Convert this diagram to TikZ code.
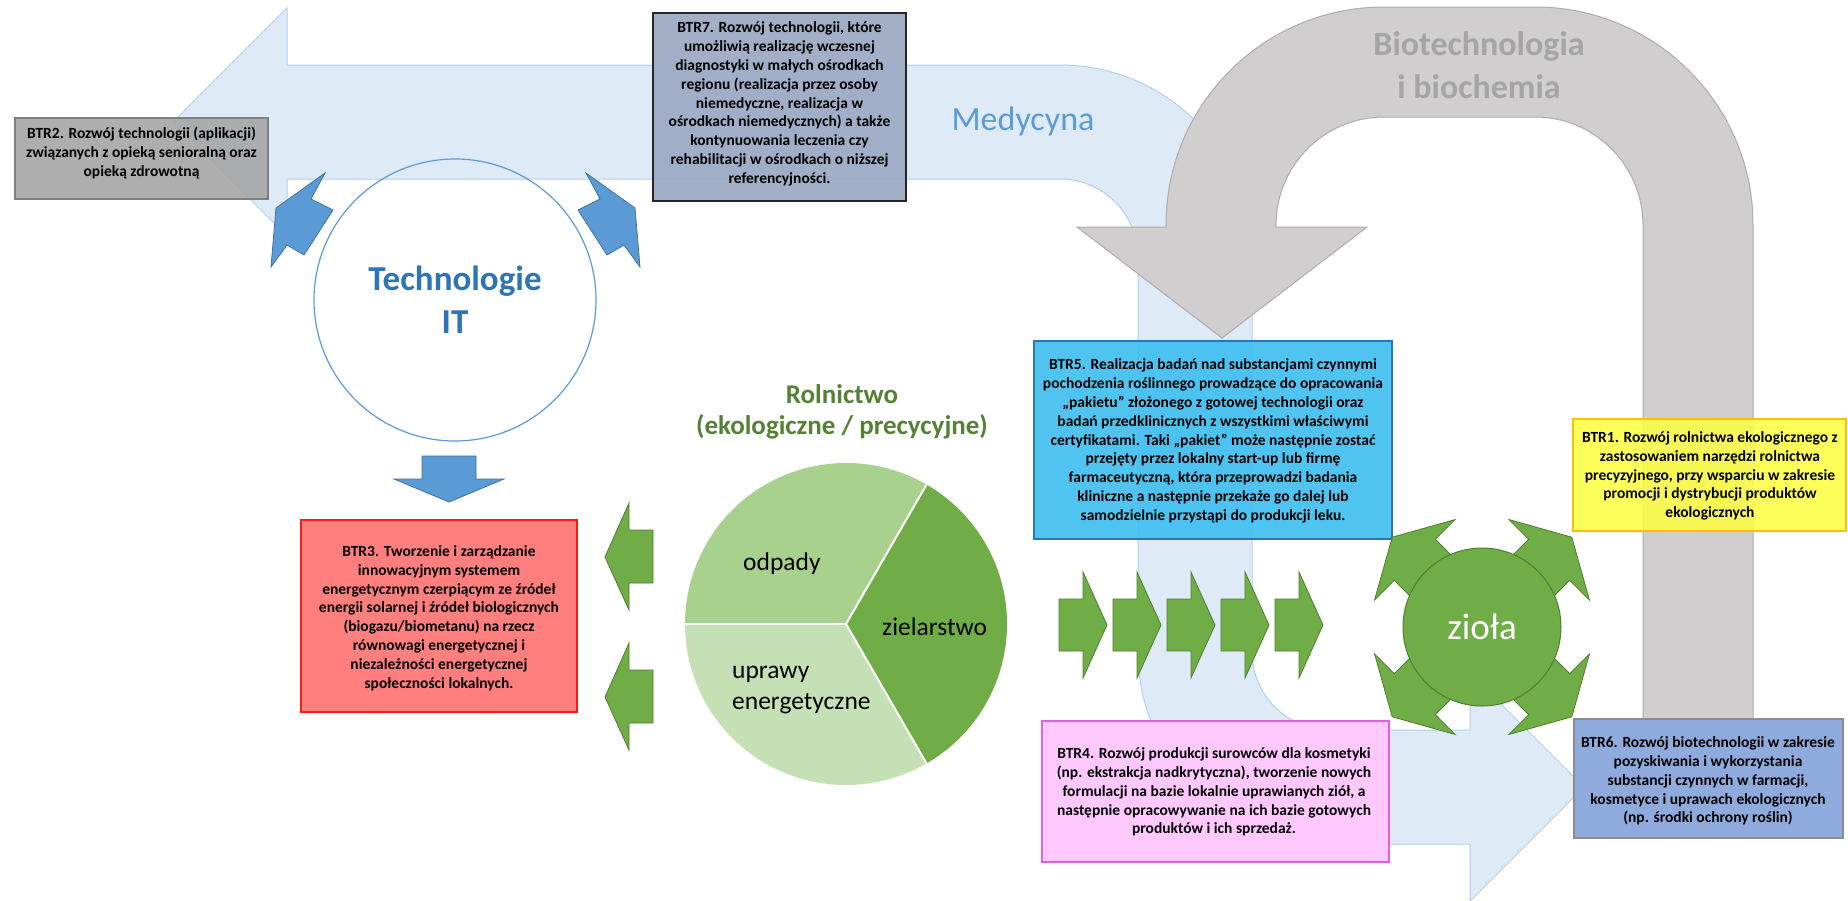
\documentclass[tikz,border=0pt]{standalone}
\usepackage{fontspec}
\setmainfont{Carlito}
\definecolor{bandfill}{HTML}{DEEBF7}
\definecolor{banddraw}{HTML}{B4CFEC}
\definecolor{greyfill}{HTML}{D0CECE}
\definecolor{greydraw}{HTML}{AFABAB}
\definecolor{greytext}{HTML}{A5A5A5}
\definecolor{medtext}{HTML}{5B9BD5}
\definecolor{itblue}{HTML}{5B9BD5}
\definecolor{itbluedark}{HTML}{41719C}
\definecolor{ittext}{HTML}{2E75B6}
\definecolor{grn}{HTML}{70AD47}
\definecolor{grndark}{HTML}{507E32}
\definecolor{grnmid}{HTML}{A9D18E}
\definecolor{grnlight}{HTML}{C5E0B4}
\definecolor{roltext}{HTML}{548235}
\definecolor{btrtwofill}{HTML}{A6A6A6}
\definecolor{btrtwodraw}{HTML}{7F7F7F}
\definecolor{btrsevenfill}{HTML}{9EABC5}
\definecolor{btrsevendraw}{HTML}{262626}
\definecolor{btrfivefill}{HTML}{3DBEF0}
\definecolor{btrfivedraw}{HTML}{2E75B6}
\definecolor{btronefill}{HTML}{FFFF40}
\definecolor{btronedraw}{HTML}{FFC000}
\definecolor{btrfourfill}{HTML}{FFC9FF}
\definecolor{btrfourdraw}{HTML}{E060E0}
\definecolor{btrsixfill}{HTML}{8FAADC}
\definecolor{btrsixdraw}{HTML}{8C8C8C}
\definecolor{btrthreefill}{HTML}{FF7F7F}
\definecolor{btrthreedraw}{HTML}{FF1A1A}
\tikzset{
  boxshape/.style={rectangle, inner sep=0pt, outer sep=0pt},
  boxtext/.style={inner sep=0pt, align=center, text=black,
     font=\fontsize{15.5}{18.8}\selectfont\bfseries},
  grnarrow/.style={fill=grn, draw=grndark, line width=0.8pt},
  bluearrow/.style={fill=itblue, draw=itbluedark, line width=0.8pt},
  pielabel/.style={inner sep=0pt, text=black, font=\fontsize{25.5}{30}\selectfont},
}
\begin{document}
\begin{tikzpicture}[x=1pt,y=-1pt]
\useasboundingbox (0,0) rectangle (1848,900);
\fill[white] (0,0) rectangle (1848,900);

% Medycyna band
\path[fill=bandfill, draw=banddraw, line width=1pt]
 (173,122) -- (287,8) -- (287,65) -- (1060,65)
 .. controls (1166,65) and (1252,151) .. (1252,257)
 -- (1252,652)
 .. controls (1252,695) and (1287,730) .. (1330,730)
 -- (1470,730) -- (1470,673) -- (1584,787) -- (1470,901) -- (1470,844) -- (1330,844)
 .. controls (1224,844) and (1138,758) .. (1138,652)
 -- (1138,257)
 .. controls (1138,214) and (1103,179) .. (1060,179)
 -- (287,179) -- (287,236) -- cycle;

% Biotechnologia U arrow
\path[fill=greyfill, draw=greydraw, line width=1pt]
 (1222,338) -- (1367,227) -- (1276,227) -- (1276,225)
 .. controls (1276,165.4) and (1324.4,117) .. (1384,117)
 -- (1535,117)
 .. controls (1594.6,117) and (1643,165.4) .. (1643,225)
 -- (1643,719) -- (1753,719) -- (1753,225)
 .. controls (1753,104.6) and (1655.4,7) .. (1535,7)
 -- (1384,7)
 .. controls (1263.6,7) and (1166,104.6) .. (1166,225)
 -- (1166,227) -- (1077,227) -- cycle;

\node[anchor=base, inner sep=0pt, text=medtext, font=\fontsize{34}{41}\selectfont] (med) at (1023,130) {Medycyna};
\node[anchor=base, inner sep=0pt, text=greytext, font=\fontsize{34}{41}\selectfont\bfseries] (bioa) at (1479,55) {Biotechnologia};
\node[anchor=base, inner sep=0pt, text=greytext, font=\fontsize{34}{41}\selectfont\bfseries] (biob) at (1479,98) {i biochemia};

% Technologie IT
\node[circle, minimum size=282pt, inner sep=0pt, draw=itblue, line width=1.2pt] (it) at (455,300) {};
\node[anchor=base, inner sep=0pt, text=ittext, font=\fontsize{35}{42}\selectfont\bfseries] (ita) at (455,290) {Technologie};
\node[anchor=base, inner sep=0pt, text=ittext, font=\fontsize{35}{42}\selectfont\bfseries] (itb) at (455,333) {IT};
\path[bluearrow] (325,173) -- (311,199) -- (333,210) -- (304,255) -- (287,245) -- (271,267) -- (276,208) -- cycle;
\path[bluearrow] (586,173) -- (600,199) -- (578,210) -- (607,255) -- (624,245) -- (640,267) -- (635,208) -- cycle;
\path[bluearrow] (422,456) -- (476,456) -- (476,479) -- (504,479) -- (449,502) -- (394,479) -- (422,479) -- cycle;

% boxes
\node[boxshape, minimum width=253pt, minimum height=81pt, fill=btrtwofill, fill opacity=0.9, draw=btrtwodraw, line width=1.5pt] (btr2) at (141.5,158.5) {};
\node[boxtext] (btr2t) at (141.5,153) {BTR2. Rozwój technologii (aplikacji)\\związanych z opieką senioralną oraz\\opieką zdrowotną};

\node[boxshape, minimum width=253pt, minimum height=188pt, fill=btrsevenfill, fill opacity=0.95, draw=btrsevendraw, line width=2.5pt] (btr7) at (779.5,107) {};
\node[boxtext] (btr7t) at (779.5,104) {BTR7. Rozwój technologii, które\\umożliwią realizację wczesnej\\diagnostyki w małych ośrodkach\\regionu (realizacja przez osoby\\niemedyczne, realizacja w\\ośrodkach niemedycznych) a także\\kontynuowania leczenia czy\\rehabilitacji w ośrodkach o niższej\\referencyjności.};

\node[boxshape, minimum width=358pt, minimum height=198pt, fill=btrfivefill, fill opacity=0.9, draw=btrfivedraw, line width=1.5pt] (btr5) at (1213,440) {};
\node[boxtext] (btr5t) at (1213,441) {BTR5. Realizacja badań nad substancjami czynnymi\\pochodzenia roślinnego prowadzące do opracowania\\„pakietu” złożonego z gotowej technologii oraz\\badań przedklinicznych z wszystkimi właściwymi\\certyfikatami. Taki „pakiet” może następnie zostać\\przejęty przez lokalny start-up lub firmę\\farmaceutyczną, która przeprowadzi badania\\kliniczne a następnie przekaże go dalej lub\\samodzielnie przystąpi do produkcji leku.};

\node[boxshape, minimum width=273pt, minimum height=112pt, fill=btronefill, fill opacity=0.85, draw=btronedraw, line width=2pt] (btr1) at (1709.5,475) {};
\node[boxtext] (btr1t) at (1710,476) {BTR1. Rozwój rolnictwa ekologicznego z\\zastosowaniem narzędzi rolnictwa\\precyzyjnego, przy wsparciu w zakresie\\promocji i dystrybucji produktów\\ekologicznych};

\node[boxshape, minimum width=347pt, minimum height=141pt, fill=btrfourfill, draw=btrfourdraw, line width=2pt] (btr4) at (1215.5,791.5) {};
\node[boxtext] (btr4t) at (1214,792) {BTR4. Rozwój produkcji surowców dla kosmetyki\\(np. ekstrakcja nadkrytyczna), tworzenie nowych\\formulacji na bazie lokalnie uprawianych ziół, a\\następnie opracowywanie na ich bazie gotowych\\produktów i ich sprzedaż.};

\node[boxshape, minimum width=269pt, minimum height=119pt, fill=btrsixfill, draw=btrsixdraw, line width=1.5pt] (btr6) at (1708.5,778.5) {};
\node[boxtext] (btr6t) at (1708,781) {BTR6. Rozwój biotechnologii w zakresie\\pozyskiwania i wykorzystania\\substancji czynnych w farmacji,\\kosmetyce i uprawach ekologicznych\\(np. środki ochrony roślin)};

\node[boxshape, minimum width=276pt, minimum height=192pt, fill=btrthreefill, draw=btrthreedraw, line width=1.5pt] (btr3) at (439,616) {};
\node[boxtext] (btr3t) at (439,618) {BTR3. Tworzenie i zarządzanie\\innowacyjnym systemem\\energetycznym czerpiącym ze źródeł\\energii solarnej i źródeł biologicznych\\(biogazu/biometanu) na rzecz\\równowagi energetycznej i\\niezależności energetycznej\\społeczności lokalnych.};

% Rolnictwo
\node[anchor=base, inner sep=0pt, text=roltext, font=\fontsize{27}{32}\selectfont\bfseries] (rola) at (842,403) {Rolnictwo};
\node[anchor=base, inner sep=0pt, text=roltext, font=\fontsize{27}{32}\selectfont\bfseries] (rolb) at (842,434) {(ekologiczne / precycyjne)};

\coordinate (pie) at (846,624);
\fill[grnmid] (pie) -- ++(60:161pt) arc[start angle=60, end angle=180, radius=161pt] -- cycle;
\fill[grnlight] (pie) -- ++(180:161pt) arc[start angle=180, end angle=300, radius=161pt] -- cycle;
\fill[grn] (pie) -- ++(-60:161pt) arc[start angle=-60, end angle=60, radius=161pt] -- cycle;
\draw[white, line width=2pt] (pie) -- ++(60:161pt);
\draw[white, line width=2pt] (pie) -- ++(180:161pt);
\draw[white, line width=2pt] (pie) -- ++(300:161pt);
\node[pielabel, anchor=base west] (odp) at (743,570) {odpady};
\node[pielabel, anchor=base west] (ziel) at (882,635) {zielarstwo};
\node[pielabel, anchor=base west] (upra) at (732,678) {uprawy};
\node[pielabel, anchor=base west] (uprb) at (732,709) {energetyczne};

% left green arrows
\path[grnarrow] (605,557) -- (629,503) -- (629,530) -- (653,530) -- (653,583) -- (629,583) -- (629,610) -- cycle;
\path[grnarrow] (605,697) -- (629,643) -- (629,670) -- (653,670) -- (653,723) -- (629,723) -- (629,750) -- cycle;

% chevrons
\foreach \x in {1059,1113,1167,1221,1275}{
  \path[grnarrow] (\x,599) -- (\x+24,599) -- (\x+24,572) -- (\x+48,625) -- (\x+24,678) -- (\x+24,651) -- (\x,651) -- cycle;
}

% ziola
\foreach \ang in {45,135,225,315}{
  \begin{scope}[shift={(1482,627)}, rotate=\ang]
    \path[grnarrow] (60,-29) -- (95,-29) -- (95,-57) -- (127,0) -- (95,57) -- (95,29) -- (60,29) -- cycle;
  \end{scope}
}
\node[circle, minimum size=158pt, inner sep=0pt, fill=grn, draw=grndark, line width=1pt, text=white, font=\fontsize{37}{44}\selectfont] (ziola) at (1482,627) {zioła};

\end{tikzpicture}
\end{document}
